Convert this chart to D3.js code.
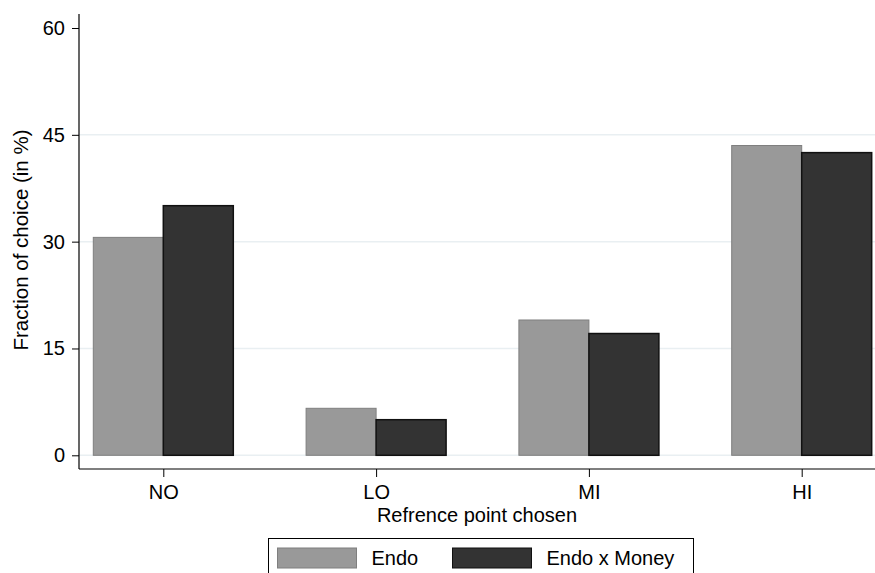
<!DOCTYPE html>
<html>
<head>
<meta charset="utf-8">
<script src="https://cdn.jsdelivr.net/npm/d3@7"></script>
<style>
  body { margin: 0; background: #fff; }
  text { font-family: "Liberation Sans", Arial, Helvetica, sans-serif; fill: #000; }
</style>
</head>
<body>
<svg width="875" height="573"></svg>
<script>
// chart data
const categories = ["NO", "LO", "MI", "HI"];
const seriesNames = ["Endo", "Endo x Money"];
const endoValues = [30.6, 6.6, 19.0, 43.5];
const moneyValues = [35.05, 5.0, 17.1, 42.5];
const yTicks = [0, 15, 30, 45, 60];
const gridTicks = [0, 15, 30, 45];

const colors = { "Endo": "#999999", "Endo x Money": "#333333" };
const strokes = { "Endo": "#7f7f7f", "Endo x Money": "#111111" };

var svg = d3.select("svg");

// plot area edges (stata leaves a gap between bars and x axis)
const axisX = 79, axisY = 469, plotRight = 875, plotTop = 14;

var y = d3.scaleLinear().domain([0, 60]).range([455.3, 28]);
var x = d3.scalePoint().domain(categories).range([163.3, 801.7]);
var xInner = d3.scaleBand().domain(seriesNames).range([-70, 70]);

// grid lines
svg.append("g")
    .selectAll("line")
    .data(gridTicks)
    .enter().append("line")
    .attr("x1", axisX)
    .attr("x2", plotRight)
    .attr("y1", d => y(d))
    .attr("y2", d => y(d))
    .attr("stroke", "#e9eff2")
    .attr("stroke-width", 1.5);

// bars
const rows = categories.map((c, i) => ({ cat: c, values: [
    { name: "Endo", value: endoValues[i] },
    { name: "Endo x Money", value: moneyValues[i] }
]}));

svg.append("g")
    .selectAll("g")
    .data(rows)
    .enter().append("g")
    .attr("transform", d => "translate(" + x(d.cat) + ",0)")
    .selectAll("rect")
    .data(d => d.values)
    .enter().append("rect")
    .attr("x", d => xInner(d.name))
    .attr("width", xInner.bandwidth())
    .attr("y", d => y(d.value))
    .attr("height", d => y(0) - y(d.value))
    .attr("fill", d => colors[d.name])
    .attr("stroke", d => strokes[d.name])
    .attr("stroke-width", d => d.name === "Endo" ? 1 : 1.5);

// y axis
var yAxis = d3.axisLeft(y).tickValues(yTicks).tickSize(7).tickPadding(7).tickFormat(d3.format("d"));
var gy = svg.append("g")
    .attr("transform", "translate(" + axisX + ",0)")
    .call(yAxis);
gy.select(".domain").remove();
gy.selectAll("text").style("font-size", "20px");
gy.selectAll("line").attr("stroke", "#000");
svg.append("line")
    .attr("x1", axisX).attr("x2", axisX)
    .attr("y1", plotTop).attr("y2", axisY)
    .attr("stroke", "#000").attr("stroke-width", 1.2);

// x axis
var xAxis = d3.axisBottom(x).tickSize(8).tickPadding(8);
var gx = svg.append("g")
    .attr("transform", "translate(0," + axisY + ")")
    .call(xAxis);
gx.select(".domain").remove();
gx.selectAll("text").style("font-size", "20px");
gx.selectAll("line").attr("stroke", "#000");
svg.append("line")
    .attr("x1", axisX).attr("x2", plotRight)
    .attr("y1", axisY).attr("y2", axisY)
    .attr("stroke", "#000").attr("stroke-width", 1.2);

// axis titles
svg.append("text")
    .attr("transform", "translate(28,240) rotate(-90)")
    .attr("text-anchor", "middle")
    .style("font-size", "20.5px")
    .text("Fraction of choice (in %)");

svg.append("text")
    .attr("x", 477)
    .attr("y", 522)
    .attr("text-anchor", "middle")
    .style("font-size", "20px")
    .text("Refrence point chosen");

// legend
const legend = svg.append("g");
legend.append("rect")
    .attr("x", 268.5).attr("y", 538.5)
    .attr("width", 425).attr("height", 50)
    .attr("fill", "#fff")
    .attr("stroke", "#000")
    .attr("stroke-width", 1);

const legendX = [277.5, 452.5];
legend.selectAll(".swatch")
    .data(seriesNames)
    .enter().append("rect")
    .attr("class", "swatch")
    .attr("x", (d, i) => legendX[i])
    .attr("y", 548)
    .attr("width", 79)
    .attr("height", 20)
    .attr("fill", d => colors[d])
    .attr("stroke", d => strokes[d])
    .attr("stroke-width", 1);
legend.selectAll(".label")
    .data(seriesNames)
    .enter().append("text")
    .attr("class", "label")
    .attr("x", (d, i) => legendX[i] + 94)
    .attr("y", 565)
    .style("font-size", "20px")
    .text(d => d);
</script>
</body>
</html>
